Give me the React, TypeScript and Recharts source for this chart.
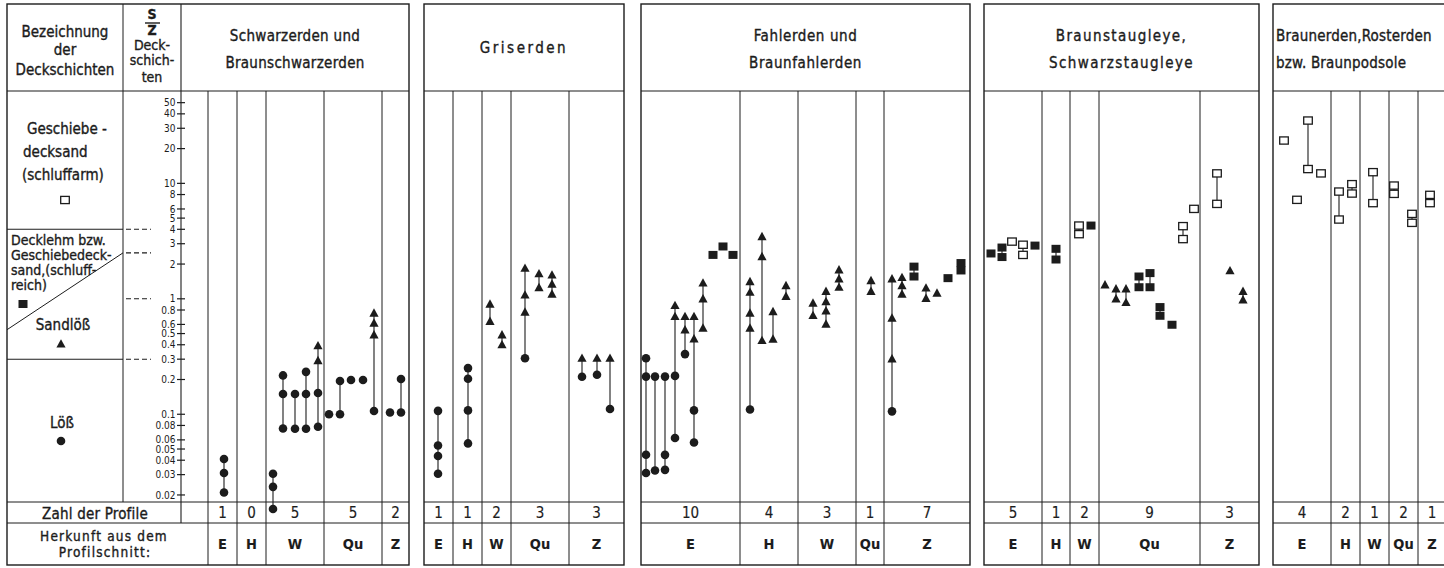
import React from 'react';
import { ScatterChart, Scatter, XAxis, YAxis, ReferenceLine } from 'recharts';

// x = position of a profile across the plate, y = S/Z ratio of the cover layer
// c = Löß (circle), t = Sandlöß (triangle), s = Decklehm (filled square), o = Geschiebedecksand (open square)
type Profile = { x: number; c?: number[]; t?: number[]; s?: number[]; o?: number[] };

const PANEL_TITLES = [
  ['Schwarzerden  und', 'Braunschwarzerden'],
  ['Griserden'],
  ['Fahlerden  und', 'Braunfahlerden'],
  ['Braunstaugleye,', 'Schwarzstaugleye'],
  ['Braunerden,Rosterden', 'bzw. Braunpodsole'],
];
const ORIGINS = ['E', 'H', 'W', 'Qu', 'Z'];
const PROFILE_COUNTS = [
  [1, 0, 5, 5, 2],
  [1, 1, 2, 3, 3],
  [10, 4, 3, 1, 7],
  [5, 1, 2, 9, 3],
  [4, 2, 1, 2, 1],
];
const Y_TICKS = [50, 40, 30, 20, 10, 8, 6, 5, 4, 3, 2, 1, 0.8, 0.6, 0.5, 0.4, 0.3, 0.2, 0.1, 0.08, 0.06, 0.05, 0.04, 0.03, 0.02];
const CLASS_LIMITS = [4, 2.5, 1, 0.3];

const schwarzerden: Profile[] = [
  { x: 224, c: [0.041, 0.031, 0.021] },
  { x: 273, c: [0.0305, 0.0235, 0.0151] },
  { x: 283, c: [0.217, 0.15, 0.0753] },
  { x: 295, c: [0.15, 0.075] },
  { x: 306, c: [0.233, 0.15, 0.075] },
  { x: 318, t: [0.392, 0.292], c: [0.153, 0.078] },
  { x: 329, c: [0.1] },
  { x: 340, c: [0.194, 0.1] },
  { x: 351, c: [0.198] },
  { x: 363, c: [0.198] },
  { x: 374, t: [0.752, 0.616, 0.488], c: [0.1066] },
  { x: 390, c: [0.1036] },
  { x: 401, c: [0.2018, 0.1036] },
];

const griserden: Profile[] = [
  { x: 438, c: [0.107, 0.0537, 0.0435, 0.0305] },
  { x: 468, c: [0.251, 0.203, 0.108, 0.0559] },
  { x: 490, t: [0.9, 0.637] },
  { x: 502, t: [0.488, 0.4] },
  { x: 525, t: [1.84, 1.08, 0.767], c: [0.306] },
  { x: 539, t: [1.65, 1.25] },
  { x: 552, t: [1.61, 1.34, 1.1] },
  { x: 582, t: [0.306], c: [0.211] },
  { x: 597, t: [0.306], c: [0.22] },
  { x: 610, t: [0.306], c: [0.111] },
];

const fahlerden: Profile[] = [
  { x: 646, c: [0.306, 0.212, 0.0446, 0.031] },
  { x: 655, c: [0.212, 0.0326] },
  { x: 665, c: [0.212, 0.0445, 0.033] },
  { x: 675, t: [0.875, 0.703], c: [0.215, 0.0622] },
  { x: 685, t: [0.703, 0.539], c: [0.332] },
  { x: 694, t: [0.703, 0.45], c: [0.108, 0.057] },
  { x: 703, t: [1.37, 1.0, 0.557] },
  { x: 713, s: [2.4] },
  { x: 723, s: [2.84] },
  { x: 733, s: [2.4] },
  { x: 750, t: [1.41, 1.14, 0.752, 0.557], c: [0.11] },
  { x: 762, t: [3.46, 2.32, 0.436] },
  { x: 773, t: [0.776, 0.448] },
  { x: 786, t: [1.3, 1.05] },
  { x: 813, t: [0.918, 0.717] },
  { x: 826, t: [1.16, 0.947, 0.787, 0.604] },
  { x: 839, t: [1.78, 1.49, 1.26] },
  { x: 871, t: [1.44, 1.16] },
  { x: 892, t: [1.49, 0.68, 0.302], c: [0.106] },
  { x: 902, t: [1.53, 1.3, 1.1] },
  { x: 914, s: [1.9, 1.56] },
  { x: 926, t: [1.24, 1.01] },
  { x: 937, t: [1.12] },
  { x: 948, s: [1.51] },
  { x: 961, s: [2.04, 1.76] },
];

const braunstaugleye: Profile[] = [
  { x: 991, s: [2.47] },
  { x: 1002, s: [2.78, 2.3] },
  { x: 1012, o: [3.13] },
  { x: 1023, o: [2.94, 2.4] },
  { x: 1035, s: [2.89] },
  { x: 1056, s: [2.71, 2.19] },
  { x: 1079, o: [4.31, 3.63] },
  { x: 1091, s: [4.31] },
  { x: 1105, t: [1.32] },
  { x: 1116, t: [1.22, 1.0] },
  { x: 1126, t: [1.22, 0.929] },
  { x: 1139, s: [1.56, 1.26] },
  { x: 1150, s: [1.67, 1.26] },
  { x: 1160, s: [0.848, 0.713] },
  { x: 1172, s: [0.596] },
  { x: 1183, o: [4.26, 3.29] },
  { x: 1194, o: [6.01] },
  { x: 1217, o: [12.2, 6.64] },
  { x: 1230, t: [1.75] },
  { x: 1243, t: [1.16, 0.98] },
];

const braunerden: Profile[] = [
  { x: 1284, o: [23.5] },
  { x: 1297, o: [7.2] },
  { x: 1308, o: [35, 13.3] },
  { x: 1321, o: [12.2] },
  { x: 1339, o: [8.49, 4.86] },
  { x: 1352, o: [9.84, 8.16] },
  { x: 1373, o: [12.5, 6.74] },
  { x: 1394, o: [9.57, 8.11] },
  { x: 1412, o: [5.44, 4.55] },
  { x: 1430, o: [7.95, 6.74] },
];

// ---- layout of the plate ----
const W = 1444;
const H = 568;
const Y_MIN = 0.00466;
const Y_MAX = 387.4;
const INK = '#1c1c1c';
const FONT = "'DejaVu Sans Condensed', 'Liberation Sans Narrow', sans-serif";
const TOP = 4;
const HEAD = 91;
const ROW1 = 502;
const ROW2 = 523;
const BOTTOM = 565;

const PANELS = [
  { left: 7, titleLeft: 181, edges: [208, 237, 266, 324, 382, 409], spacing: 0.3 },
  { left: 424, titleLeft: 424, edges: [424, 453, 482, 511, 569, 624], spacing: 2.5 },
  { left: 641, titleLeft: 641, edges: [641, 740, 798, 856, 884, 970], spacing: 0.6 },
  { left: 984, titleLeft: 984, edges: [984, 1042, 1070, 1099, 1200, 1259], spacing: 1.4 },
  { left: 1273, titleLeft: 1273, edges: [1273, 1331, 1360, 1389, 1418, 1446], spacing: 0.2 },
];

type Kind = 'c' | 't' | 's' | 'o';

function Marker({ kind, cx, cy }: { kind: Kind; cx: number; cy: number }) {
  if (kind === 'c') return <circle cx={cx} cy={cy} r={4.3} fill={INK} />;
  if (kind === 't')
    return <path d={`M${cx},${cy - 4.8}L${cx + 4.6},${cy + 3.6}L${cx - 4.6},${cy + 3.6}Z`} fill={INK} />;
  if (kind === 's') return <rect x={cx - 4.5} y={cy - 4} width={9} height={8} fill={INK} />;
  return <rect x={cx - 4.3} y={cy - 3.6} width={8.6} height={7.2} fill="#fff" stroke={INK} strokeWidth={1.3} />;
}

const ALL_PROFILES = [...schwarzerden, ...griserden, ...fahlerden, ...braunstaugleye, ...braunerden];
const SERIES = ALL_PROFILES.map((p) => {
  const pts: { x: number; y: number; kind: Kind }[] = [];
  (['c', 't', 's', 'o'] as Kind[]).forEach((k) => (p[k] ?? []).forEach((v) => pts.push({ x: p.x, y: v, kind: k })));
  return pts.sort((a, b) => b.y - a.y);
});

const renderMarker = (props: any) => <Marker kind={props.payload.kind} cx={props.cx} cy={props.cy} />;

function Table() {
  // a thin outline makes the glyphs as dark as the printed lettering
  const t = { fontFamily: FONT, fill: INK, stroke: INK, strokeWidth: 0.35 };
  return (
    <svg width={W} height={H} style={{ position: 'absolute', left: 0, top: 0 }}>
      <g stroke={INK} fill="none">
        {PANELS.map((p, i) => (
          <g key={i}>
            <rect x={p.left} y={TOP} width={p.edges[5] - p.left} height={BOTTOM - TOP} strokeWidth={1.4} />
            <line x1={p.left} x2={p.edges[5]} y1={HEAD} y2={HEAD} strokeWidth={1.2} />
            <line x1={p.left} x2={p.edges[5]} y1={ROW1} y2={ROW1} strokeWidth={1} />
            <line x1={p.left} x2={p.edges[5]} y1={ROW2} y2={ROW2} strokeWidth={1} />
            {p.edges.slice(i === 0 ? 0 : 1, 5).map((e) => (
              <line key={e} x1={e} x2={e} y1={HEAD} y2={BOTTOM} strokeWidth={1} />
            ))}
          </g>
        ))}
        <line x1={123} x2={123} y1={TOP} y2={ROW1} strokeWidth={1} />
        <line x1={181} x2={181} y1={TOP} y2={ROW2} strokeWidth={1.1} />
        <line x1={145} x2={160} y1={23} y2={23} strokeWidth={1.4} />
      </g>

      {/* panel titles */}
      {PANELS.map((p, i) =>
        PANEL_TITLES[i].map((s, j) => {
          const lines = PANEL_TITLES[i].length;
          const y = lines === 1 ? 53 : j === 0 ? 41 : 68;
          const leftAligned = i === 4;
          return (
            <text
              key={`${i}-${j}`}
              x={leftAligned ? 1276 : (p.titleLeft + p.edges[5]) / 2}
              y={y}
              textAnchor={leftAligned ? 'start' : 'middle'}
              fontSize={15}
              letterSpacing={p.spacing}
              {...t}
            >
              {s}
            </text>
          );
        })
      )}

      {/* counts and origins */}
      {PANELS.map((p, i) =>
        ORIGINS.map((o, j) => {
          const cx = (p.edges[j] + p.edges[j + 1]) / 2;
          return (
            <g key={`${i}-${o}`}>
              <text x={cx} y={518} textAnchor="middle" fontSize={15} {...t} strokeWidth={0.15}>
                {PROFILE_COUNTS[i][j]}
              </text>
              <text x={cx} y={549} textAnchor="middle" fontSize={14.5} fontWeight="bold" {...t} strokeWidth={0.1}>
                {o}
              </text>
            </g>
          );
        })
      )}

      {/* header of the legend columns */}
      <g textAnchor="middle" fontSize={15} {...t}>
        <text x={65} y={37}>Bezeichnung</text>
        <text x={65} y={55}>der</text>
        <text x={65} y={75}>Deckschichten</text>
      </g>
      <g textAnchor="middle" fontSize={14} {...t}>
        <text x={152} y={19} fontWeight="bold">S</text>
        <text x={152} y={35} fontWeight="bold">Z</text>
        <text x={152} y={50}>Deck-</text>
        <text x={152} y={65}>schich-</text>
        <text x={152} y={82}>ten</text>
      </g>

      {/* legend of the cover layers */}
      <g fontSize={15} {...t}>
        <text x={27} y={134}>Geschiebe -</text>
        <text x={23} y={157}>decksand</text>
        <text x={22} y={180}>(schluffarm)</text>
      </g>
      <g fontSize={14} {...t}>
        <text x={11} y={245}>Decklehm bzw.</text>
        <text x={11} y={260}>Geschiebedeck-</text>
        <text x={11} y={275}>sand,(schluff-</text>
        <text x={11} y={290}>reich)</text>
      </g>
      <g fontSize={15} textAnchor="middle" {...t}>
        <text x={63} y={330}>Sandlöß</text>
        <text x={62} y={428}>Löß</text>
      </g>
      <Marker kind="o" cx={65} cy={200} />
      <Marker kind="s" cx={23} cy={304} />
      <Marker kind="t" cx={61} cy={344} />
      <Marker kind="c" cx={61} cy={441} />

      <g textAnchor="middle" {...t}>
        <text x={95} y={519} fontSize={15} letterSpacing={0.2}>Zahl der Profile</text>
        <text x={104} y={541} fontSize={13.5} letterSpacing={1.2}>Herkunft aus dem</text>
        <text x={105} y={557} fontSize={13.5} letterSpacing={1.2}>Profilschnitt:</text>
      </g>
    </svg>
  );
}

export default function App() {
  return (
    <div style={{ position: 'absolute', left: 0, top: 0, width: W, height: H, background: '#fff' }}>
      <Table />
      <div style={{ position: 'absolute', left: 0, top: 0 }}>
        <ScatterChart width={W} height={H} margin={{ top: 0, right: 0, bottom: 0, left: 0 }}>
          <XAxis type="number" dataKey="x" domain={[0, W]} hide allowDataOverflow />
          <YAxis type="number" dataKey="y" scale="log" domain={[Y_MIN, Y_MAX]} hide allowDataOverflow />

          {Y_TICKS.map((v) => (
            <ReferenceLine
              key={`tick-${v}`}
              segment={[{ x: 177, y: v }, { x: 185, y: v }]}
              stroke={INK}
              strokeWidth={1.2}
              label={{ value: String(v), position: 'left', offset: 1.5, fontSize: 10, fill: INK, fontFamily: FONT }}
            />
          ))}

          {CLASS_LIMITS.map((v) => (
            <ReferenceLine
              key={`dash-${v}`}
              segment={[{ x: 126, y: v }, { x: 151, y: v }]}
              stroke={INK}
              strokeWidth={1.1}
              strokeDasharray="5 3"
            />
          ))}
          <ReferenceLine segment={[{ x: 7, y: 4 }, { x: 123, y: 4 }]} stroke={INK} strokeWidth={1.1} />
          <ReferenceLine segment={[{ x: 7, y: 0.3 }, { x: 123, y: 0.3 }]} stroke={INK} strokeWidth={1.1} />
          <ReferenceLine segment={[{ x: 7, y: 0.54 }, { x: 123, y: 2.5 }]} stroke={INK} strokeWidth={1} />

          {SERIES.map((pts, i) => (
            <Scatter
              key={`profile-${i}`}
              data={pts}
              fill={INK}
              line={{ stroke: INK, strokeWidth: 1.1 }}
              lineType="joint"
              shape={renderMarker}
              isAnimationActive={false}
            />
          ))}
        </ScatterChart>
      </div>
    </div>
  );
}
